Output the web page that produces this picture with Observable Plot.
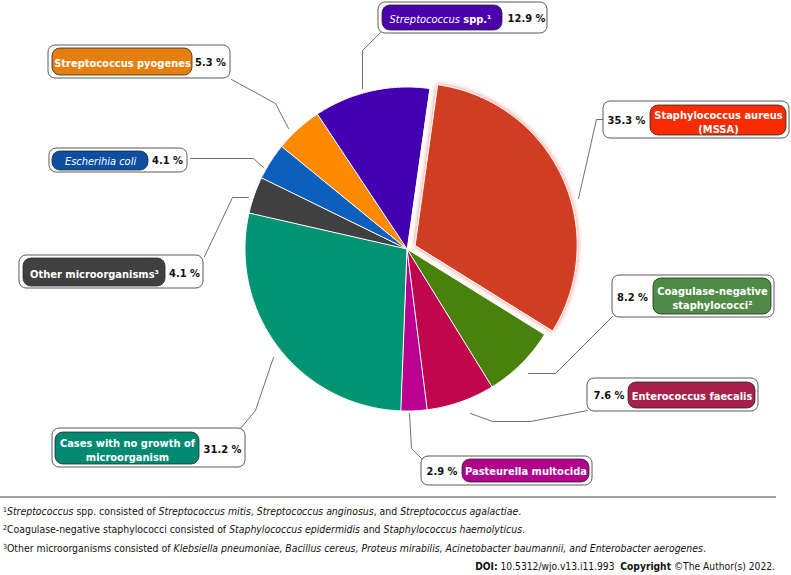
<!DOCTYPE html>
<html><head><meta charset="utf-8">
<script src="https://cdn.jsdelivr.net/npm/d3@7"></script>
<script src="https://cdn.jsdelivr.net/npm/@observablehq/plot@0.6"></script>
<style>
body{margin:0;background:#fff;font-family:"DejaVu Sans Condensed","DejaVu Sans",sans-serif;color:#111;}
#chart{position:absolute;left:0;top:0;width:791px;height:497px;}
.rule{position:absolute;left:0;top:496px;width:776px;height:2px;background:#a3a3a3;}
.fn{position:absolute;left:3px;font-size:10.4px;line-height:12px;white-space:nowrap;}
.fn .s{font-size:7px;vertical-align:3px;}
.doi{position:absolute;right:16px;top:561px;font-size:10.2px;line-height:12px;white-space:nowrap;}
</style></head><body>
<div id="chart"></div>
<div class="rule"></div>
<div class="fn" style="top:504px"><span class="s">1</span><i>Streptococcus</i> spp. consisted of <i>Streptococcus mitis</i>, <i>Streptococcus anginosus</i>, and <i>Streptococcus agalactiae</i>.</div>
<div class="fn" style="top:522px"><span class="s">2</span>Coagulase-negative staphylococci consisted of <i>Staphylococcus epidermidis</i> and <i>Staphylococcus haemolyticus</i>.</div>
<div class="fn" style="top:541px"><span class="s">3</span>Other microorganisms consisted of <i>Klebsiella pneumoniae, Bacillus cereus, Proteus mirabilis, Acinetobacter baumannii, and Enterobacter aerogenes</i>.</div>
<div class="doi"><b>DOI:</b> 10.5312/wjo.v13.i11.993&nbsp;&nbsp;<b>Copyright</b> ©The Author(s) 2022.</div>
<script>
// ---- data ----
const names = ["Staphylococcus aureus (MSSA)", "Coagulase-negative staphylococci", "Enterococcus faecalis", "Pasteurella multocida", "Cases with no growth of microorganism", "Other microorganisms", "Escherihia coli", "Streptococcus pyogenes", "Streptococcus spp."];
const boxTexts = ["Staphylococcus aureus\n(MSSA)", "Coagulase-negative\nstaphylococci²", "Enterococcus faecalis", "Pasteurella multocida", "Cases with no growth of\nmicroorganism", "Other microorganisms³", "Escherihia coli", "Streptococcus pyogenes", "Streptococcus spp.¹"];
const values = [35.3, 8.2, 7.6, 2.9, 31.2, 4.1, 4.1, 5.3, 12.9];
const pctLabels = ["35.3 %", "8.2 %", "7.6 %", "2.9 %", "31.2 %", "4.1 %", "4.1 %", "5.3 %", "12.9 %"];

// ---- styles ----
const sliceColors = ["#D03C20", "#49810D", "#C0074D", "#BB0090", "#009473", "#404040", "#0C5FBE", "#FF8A00", "#4400B0"];
const boxColors = ["#F82C00", "#4F8A47", "#A6204A", "#B0008C", "#008A72", "#404040", "#0B4EA2", "#E67E0E", "#4A00AC"];
const italicPart = {"Escherihia coli": "Escherihia coli", "Streptococcus spp.¹": "Streptococcus"};

// ---- layout (page pixels) ----
const W = 791, H = 497;
const pieLayout = {cx: 406.5, cy: 248.5, r: 162, startDeg: 8, explode: [9, 0, 0, 0, 0, 0, 0, 0, 0]};
const outerBoxes = [[603,101,789,138],[612,275,774,317],[587,378,758,411],[421,456,592,485],[52,428,245,467],[19,255,203,288],[49,148,187,172],[48,45,230,78],[378,2,547,33]];
const innerBoxes = [[650,105,786,135],[653,278,771,314],[628,382,755,408],[462,459,589,482],[55,432,199,464],[23,258,165,286],[52,151,148,170],[52,48,192,75],[382,5,502,30]];
const textPos = [[718,121],[712,297],[691.5,395],[525.5,470.5],[127,449],[94,273],[100,160],[122,62],[440,18]];
const pctPos = [[626,120],[632,297],[608.5,395],[441.5,470.5],[222,449],[184,273],[167,160],[210,62],[526,18]];
const leaders = [
  [[603,119],[596,119],[578,198]],
  [[612,316],[555,373],[528,373]],
  [[587,410],[530,421],[492,421],[470,413]],
  [[421,458],[411,448],[409,413]],
  [[240,428],[255,410],[273,357]],
  [[204,256],[232,197],[248,197]],
  [[190,158],[253,158],[263,167]],
  [[231,79],[275,103],[288,128]],
  [[380,32],[362,50],[362,88]]
];

// ---- build slices from values ----
const a0 = pieLayout.startDeg * Math.PI / 180;
const arcs = d3.pie().sort(null).value(d => d).startAngle(a0).endAngle(a0 + 2 * Math.PI)(values);
const slicePts = [];
arcs.forEach((a, i) => {
  const mid = (a.startAngle + a.endAngle) / 2, e = pieLayout.explode[i];
  const ox = pieLayout.cx + e * Math.sin(mid), oy = pieLayout.cy - e * Math.cos(mid);
  slicePts.push({name: names[i], fill: sliceColors[i], x: ox, y: oy});
  const n = Math.max(2, Math.ceil((a.endAngle - a.startAngle) / (Math.PI / 360)));
  for (let k = 0; k <= n; k++) {
    const t = a.startAngle + (a.endAngle - a.startAngle) * k / n;
    slicePts.push({name: names[i], fill: sliceColors[i], x: ox + pieLayout.r * Math.sin(t), y: oy - pieLayout.r * Math.cos(t)});
  }
});

const rows = names.map((n, i) => ({
  name: n, text: boxTexts[i], pct: pctLabels[i], boxFill: boxColors[i],
  ox1: outerBoxes[i][0], oy1: outerBoxes[i][1], ox2: outerBoxes[i][2], oy2: outerBoxes[i][3],
  ix1: innerBoxes[i][0], iy1: innerBoxes[i][1], ix2: innerBoxes[i][2], iy2: innerBoxes[i][3],
  tx: textPos[i][0], ty: textPos[i][1], px: pctPos[i][0], py: pctPos[i][1]
}));
const leaderPts = leaders.flatMap((pts, i) => pts.map(p => ({name: names[i], x: p[0], y: p[1]})));

const FONT = "'DejaVu Sans Condensed', 'DejaVu Sans', sans-serif";
const chart = Plot.plot({
  width: W, height: H, margin: 0,
  x: {domain: [0, W], range: [0, W], axis: null},
  y: {domain: [0, H], range: [0, H], axis: null},
  color: {type: "identity"},
  style: {background: "white"},
  marks: [
    Plot.line(slicePts, {x: "x", y: "y", z: "name", fill: d => d.fill, stroke: "white", strokeWidth: 1, curve: "linear-closed"}),
    Plot.line(leaderPts, {x: "x", y: "y", z: "name", stroke: "#4a4a4a", strokeWidth: 0.8, curve: "linear"}),
    Plot.rect(rows, {x1: "ox1", y1: "oy1", x2: "ox2", y2: "oy2", fill: "white", stroke: "#5a5a5a", strokeWidth: 1, rx: 7}),
    Plot.rect(rows, {x1: "ix1", y1: "iy1", x2: "ix2", y2: "iy2", fill: d => d.boxFill, stroke: "#2a2a2a", strokeWidth: 0.8, rx: 8}),
    Plot.text(rows, {x: "px", y: "py", text: "pct", fill: "#111", fontWeight: "bold", fontSize: 11, fontFamily: FONT}),
    Plot.text(rows, {x: "tx", y: "ty", text: "text", fill: "white", fontWeight: "bold", fontSize: 11, lineHeight: 1.25, fontFamily: FONT})
  ]
});
document.getElementById("chart").appendChild(chart);

// glow on exploded slice
const svg = d3.select(chart);
const defs = svg.insert("defs", ":first-child");
const f = defs.append("filter").attr("id", "glow").attr("x", "-20%").attr("y", "-20%").attr("width", "140%").attr("height", "140%");
f.append("feDropShadow").attr("dx", 0).attr("dy", 0).attr("stdDeviation", 2.5).attr("flood-color", "#e0402a").attr("flood-opacity", 0.7);
svg.selectAll("path").filter(function() { return this.getAttribute("fill") === sliceColors[0]; }).attr("filter", "url(#glow)");

// italic segments inside label texts
svg.selectAll("text").each(function() {
  const full = this.textContent;
  if (italicPart[full]) {
    const it = italicPart[full], rest = full.slice(it.length);
    const t = d3.select(this); t.text(null);
    t.append("tspan").attr("font-style", "italic").attr("font-weight", "normal").text(it);
    if (rest) t.append("tspan").text(rest);
  }
});
</script>
</body></html>
